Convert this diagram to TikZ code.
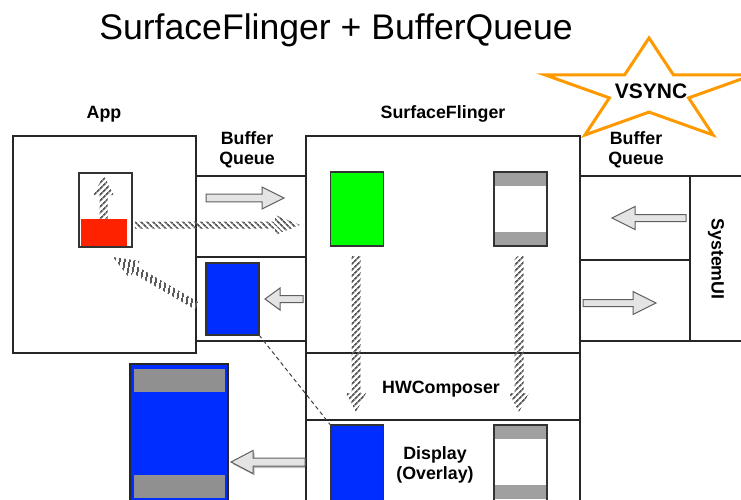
\documentclass[tikz,border=0pt]{standalone}
\usepackage{fontspec}
\setmainfont{Liberation Sans}
\usetikzlibrary{calc,patterns.meta}
\definecolor{bblue}{RGB}{0,45,255}
\definecolor{bgreen}{RGB}{0,255,0}
\definecolor{bred}{RGB}{255,34,0}
\definecolor{band}{RGB}{160,160,160}
\definecolor{sorange}{RGB}{255,153,0}
\definecolor{afill}{RGB}{228,228,228}
\definecolor{aline}{RGB}{95,95,95}
% #1 style, #2 start, #3 end, #4 shaft half width, #5 head half width, #6 head length
\newcommand{\fatarrow}[6]{%
  \path[#1] ($(#2)!#4!90:(#3)$) -- ($(#3)!#6!(#2)!#4!90:(#3)$) -- ($(#3)!#6!(#2)!#5!90:(#3)$) -- (#3)
    -- ($(#3)!#6!(#2)!#5!-90:(#3)$) -- ($(#3)!#6!(#2)!#4!-90:(#3)$) -- ($(#2)!#4!-90:(#3)$) -- cycle;}
\begin{document}
\begin{tikzpicture}[x=1pt,y=-1pt,
  box/.style={draw=black!85, line width=1.2pt, inner sep=0pt, outer sep=0pt},
  buf/.style={draw=black!80, line width=1.2pt, inner sep=0pt, outer sep=0pt, minimum width=53pt, minimum height=74pt},
  lbl/.style={font=\fontsize{17.8}{20.5}\selectfont\bfseries, align=center, inner sep=0pt},
  hatch/.style={pattern={Lines[angle=#1,distance=4pt,line width=1.8pt]}, pattern color=black!65},
  openarrow/.style={fill=afill, draw=aline, line width=1pt, line join=miter},
]
\useasboundingbox (0,0) rectangle (741,500);
\clip (0,0) rectangle (741,500);
\fill[white] (0,0) rectangle (741,500);

% title
\node[font=\fontsize{35.6}{40}\selectfont, anchor=base, inner sep=0pt] (title) at (336,40) {SurfaceFlinger + BufferQueue};

% star
\draw[sorange, line width=3pt, fill=white, line join=miter]
  (649,38) -- (624.5,75) -- (545.3,75) -- (609.4,97.9) -- (584.9,135) -- (649,112.1)
  -- (713.1,135) -- (688.6,97.9) -- (752.7,75) -- (673.5,75) -- cycle;
\node[font=\fontsize{21}{23}\selectfont\bfseries, anchor=base, inner sep=0pt] (vsync) at (651,99) {VSYNC};

% main boxes
\node[box, minimum width=183pt, minimum height=217pt] (app) at (104.5,244.5) {};
\node[box, minimum width=110pt, minimum height=81pt] (bq1a) at (251,216.5) {};
\node[box, minimum width=110pt, minimum height=84pt] (bq1b) at (251,299) {};
\node[box, minimum width=274pt, minimum height=217pt] (sf) at (443,244.5) {};
\node[box, minimum width=274pt, minimum height=67pt] (hwc) at (443,386.5) {};
\node[box, minimum width=274pt, minimum height=100pt] (disp) at (443,470) {};
\node[box, minimum width=110pt, minimum height=84pt] (bq2a) at (635,218) {};
\node[box, minimum width=110pt, minimum height=81pt] (bq2b) at (635,300.5) {};
\node[box, minimum width=60pt, minimum height=165pt] (sysui) at (720,258.5) {};

% labels
\node[lbl, anchor=base] (lapp) at (104,119) {App};
\node[lbl, anchor=base] (lsf) at (443,119) {SurfaceFlinger};
\node[lbl, anchor=base] (lbq1) at (247,164.5) {Buffer\\Queue};
\node[lbl, anchor=base] (lbq2) at (636,164.5) {Buffer\\Queue};
\node[lbl, anchor=base] (lhwc) at (441,393) {HWComposer};
\node[lbl, anchor=base] (ldisp) at (435,479.5) {Display\\(Overlay)};
\node[lbl, rotate=-90] (lsys) at (716,259) {SystemUI};

% buffers
\node[buf] (appbuf) at (105.5,210) {};
\fill[bred] (80.5,219) rectangle (127,246.2);
\draw[black!80, line width=1.2pt] (appbuf.north west) rectangle (appbuf.south east);

\node[buf, fill=bblue, minimum height=72pt] (bqblue) at (232.5,299) {};
\node[buf, fill=bgreen] (green) at (357,209) {};

\node[buf, fill=white] (sfgray) at (520.5,209) {};
\fill[band] ($(sfgray.north west)+(0.6,0.6)$) rectangle ($(sfgray.north east)+(-0.6,14)$);
\fill[band] ($(sfgray.south west)+(0.6,-14)$) rectangle ($(sfgray.south east)+(-0.6,-0.6)$);
\draw[black!80, line width=1.2pt] (sfgray.north west) rectangle (sfgray.south east);

\node[buf, fill=bblue, minimum height=80pt] (dispblue) at (357,465) {};
\node[buf, fill=white, minimum height=80pt] (dispgray) at (520.5,465) {};
\fill[band] ($(dispgray.north west)+(0.6,0.6)$) rectangle ($(dispgray.north east)+(-0.6,14)$);
\fill[band] (494.6,485) rectangle (546.4,499);
\draw[black!80, line width=1.2pt] (dispgray.north west) rectangle (dispgray.south east);

% big screen
\node[box, fill=bblue, minimum width=98pt, minimum height=146pt] (screen) at (179,437) {};
\fill[band!90!black] (134,369) rectangle (225,392);
\fill[band!90!black] (134,475) rectangle (225,498);

% dashed link
\draw[black!75, line width=1pt, dash pattern=on 4pt off 3pt] (bqblue.south east) -- (dispblue.north west);

% open arrows
\coordinate (o1s) at (206,198); \coordinate (o1e) at (284,198);
\coordinate (o2s) at (303,299); \coordinate (o2e) at (265,299);
\coordinate (o3s) at (686,218); \coordinate (o3e) at (612,218);
\coordinate (o4s) at (583,303); \coordinate (o4e) at (656,303);
\coordinate (o5s) at (305,462); \coordinate (o5e) at (231,462);
\fatarrow{openarrow}{o1s}{o1e}{3.8pt}{11pt}{22pt}
\fatarrow{openarrow}{o2s}{o2e}{3.5pt}{11pt}{15pt}
\fatarrow{openarrow}{o3s}{o3e}{3.5pt}{11.5pt}{23pt}
\fatarrow{openarrow}{o4s}{o4e}{3.5pt}{11.5pt}{23pt}
\fatarrow{fill=black, opacity=0.25, transform canvas={shift={(1.5pt,-2pt)}}}{o5s}{o5e}{4pt}{11.5pt}{22pt}
\fatarrow{openarrow}{o5s}{o5e}{4pt}{11.5pt}{22pt}

% hatched arrows
\coordinate (h1s) at (103.5,219); \coordinate (h1e) at (103.5,175);
\coordinate (h2s) at (135,225);   \coordinate (h2e) at (300,225);
\coordinate (h3s) at (197,306);   \coordinate (h3e) at (113,257);
\coordinate (h4s) at (356,256);   \coordinate (h4e) at (356,412);
\coordinate (h5s) at (519,256);   \coordinate (h5e) at (519,412);
\fatarrow{hatch=45}{h1s}{h1e}{4pt}{10pt}{20pt}
\fatarrow{hatch=-45}{h2s}{h2e}{3.5pt}{10pt}{25pt}
\fatarrow{hatch=80}{h3s}{h3e}{4pt}{10pt}{25pt}
\fatarrow{hatch=45}{h4s}{h4e}{4.5pt}{10pt}{19pt}
\fatarrow{hatch=45}{h5s}{h5e}{4.5pt}{10pt}{19pt}
\end{tikzpicture}
\end{document}
